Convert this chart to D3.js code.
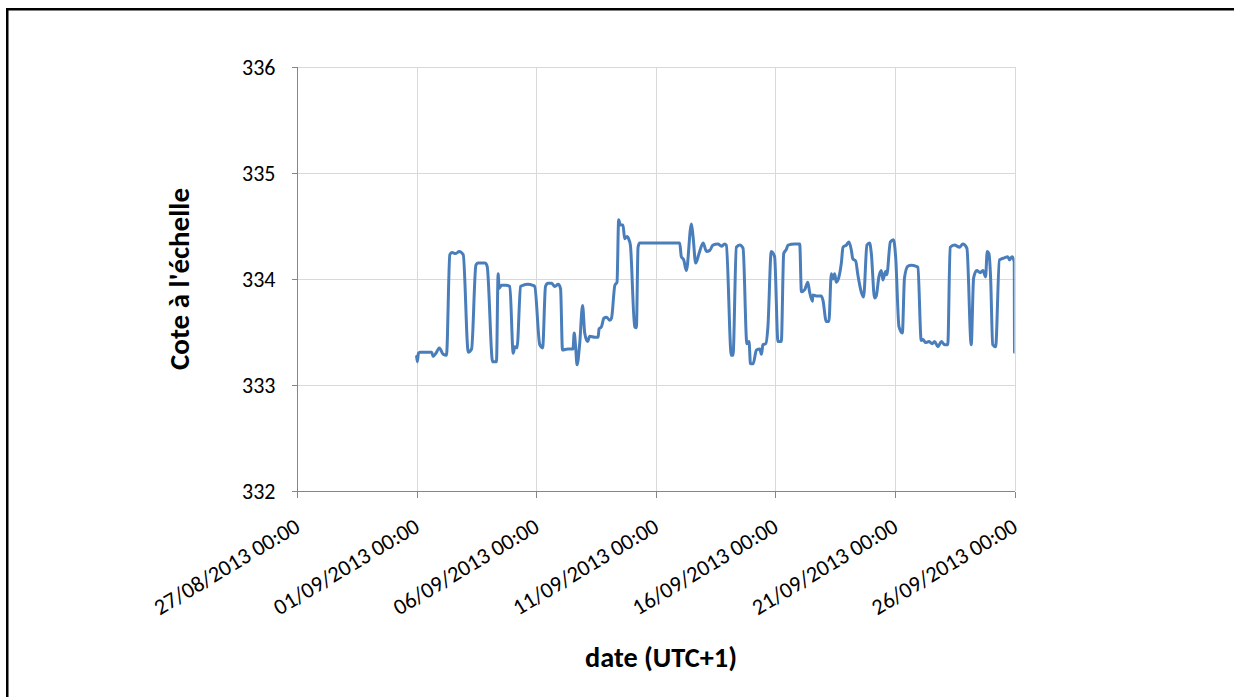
<!DOCTYPE html>
<html>
<head>
<meta charset="utf-8">
<script src="https://cdn.jsdelivr.net/npm/d3@7"></script>
<style>
  html, body { margin: 0; padding: 0; background: #fff; }
  svg { display: block; }
  text { font-family: Carlito, Calibri, Lato, "Open Sans", sans-serif; fill: #000; }
</style>
</head>
<body>
<svg id="chart" width="1234" height="697"></svg>
<script>
// ---- data ----
// Start of data series: 01/09/2013 00:00 (UTC+1); offsets are in days
const seriesStart = "2013-09-01T00:00:00Z";
const dayOffsets = [
  0.00, 0.03, 0.08, 0.14, 0.35, 0.63, 0.69, 0.81, 0.95, 1.11, 1.25, 1.39, 1.48, 1.64, 1.78, 1.95,
  2.16, 2.30, 2.48, 2.56, 2.86, 2.95, 3.18, 3.34, 3.41, 3.45, 3.55, 3.73, 3.90, 4.04, 4.11, 4.20,
  4.35, 4.44, 4.65, 4.86, 4.94, 5.15, 5.27, 5.39, 5.49, 5.64, 5.78, 5.92, 6.02, 6.10, 6.32, 6.54,
  6.59, 6.65, 6.71, 6.82, 6.94, 7.03, 7.15, 7.24, 7.45, 7.59, 7.63, 7.73, 7.83, 7.94, 8.08, 8.15,
  8.29, 8.38, 8.45, 8.52, 8.63, 8.70, 8.80, 8.88, 8.94, 9.12, 9.19, 9.26, 9.33, 9.75, 10.38, 10.58,
  11.00, 11.07, 11.17, 11.28, 11.49, 11.56, 11.67, 11.81, 11.98, 12.12, 12.26, 12.39, 12.60, 12.75, 12.88, 12.95,
  13.16, 13.23, 13.37, 13.51, 13.65, 13.81, 13.90, 13.96, 14.07, 14.21, 14.35, 14.42, 14.48, 14.60, 14.69, 14.83,
  14.97, 15.11, 15.25, 15.35, 15.46, 15.53, 15.81, 16.02, 16.09, 16.23, 16.36, 16.43, 16.55, 16.57, 16.71, 16.92,
  16.99, 17.13, 17.24, 17.34, 17.41, 17.48, 17.55, 17.66, 17.76, 17.83, 17.97, 18.08, 18.18, 18.24, 18.36, 18.45,
  18.59, 18.69, 18.83, 18.94, 19.01, 19.15, 19.22, 19.33, 19.43, 19.50, 19.61, 19.66, 19.81, 19.94, 20.03, 20.17,
  20.31, 20.40, 20.54, 20.68, 20.89, 20.96, 21.10, 21.17, 21.28, 21.42, 21.56, 21.66, 21.80, 21.94, 22.08, 22.21,
  22.31, 22.49, 22.70, 22.84, 23.01, 23.19, 23.29, 23.42, 23.57, 23.68, 23.79, 23.86, 23.93, 24.00, 24.09, 24.21,
  24.37, 24.58, 24.72, 24.79, 24.90, 24.99, 25.00
];
const cote = [
  333.27, 333.22, 333.30, 333.31, 333.31, 333.31, 333.27, 333.30, 333.35, 333.29, 333.28, 334.23, 334.25, 334.24, 334.26, 334.23,
  333.31, 333.34, 334.13, 334.15, 334.15, 334.12, 333.22, 333.22, 334.05, 333.91, 333.94, 333.94, 333.93, 333.30, 333.36, 333.35,
  333.93, 333.94, 333.95, 333.94, 333.93, 333.38, 333.35, 333.93, 333.96, 333.96, 333.93, 333.95, 333.91, 333.33, 333.34, 333.34,
  333.49, 333.36, 333.19, 333.39, 333.75, 333.49, 333.41, 333.46, 333.45, 333.45, 333.53, 333.55, 333.63, 333.64, 333.61, 333.63,
  333.94, 333.97, 334.56, 334.51, 334.51, 334.38, 334.40, 334.37, 334.32, 333.55, 333.54, 334.30, 334.34, 334.34, 334.34, 334.34,
  334.34, 334.21, 334.18, 334.08, 334.52, 334.40, 334.15, 334.24, 334.34, 334.26, 334.27, 334.32, 334.33, 334.31, 334.33, 334.32,
  333.28, 333.28, 334.30, 334.32, 334.29, 333.39, 333.41, 333.20, 333.20, 333.33, 333.34, 333.29, 333.38, 333.39, 333.55, 334.26,
  334.21, 333.41, 333.41, 334.24, 334.28, 334.32, 334.33, 334.33, 333.88, 333.90, 333.97, 333.88, 333.79, 333.85, 333.84, 333.84,
  333.80, 333.60, 333.60, 334.05, 334.00, 334.05, 333.97, 334.02, 334.15, 334.30, 334.32, 334.35, 334.27, 334.19, 334.17, 334.04,
  333.88, 333.83, 334.32, 334.34, 334.25, 333.82, 333.84, 334.02, 334.08, 333.99, 334.07, 334.04, 334.35, 334.37, 334.21, 333.55,
  333.49, 334.01, 334.12, 334.13, 334.12, 334.11, 333.42, 333.43, 333.40, 333.41, 333.39, 333.41, 333.36, 333.41, 333.38, 333.38,
  334.30, 334.32, 334.30, 334.33, 334.29, 333.38, 334.01, 334.08, 334.06, 334.08, 334.02, 334.26, 334.24, 334.02, 333.38, 333.36,
  334.18, 334.20, 334.21, 334.18, 334.21, 334.16, 333.31
];
const xTickLabels = ["27/08/2013 00:00", "01/09/2013 00:00", "06/09/2013 00:00", "11/09/2013 00:00",
                     "16/09/2013 00:00", "21/09/2013 00:00", "26/09/2013 00:00"];
const yTicks = [332, 333, 334, 335, 336];
const xTitle = "date (UTC+1)";
const yTitle = "Cote à l'échelle";

// ---- layout ----
const svg = d3.select("#chart");
const plot = { left: 297, right: 1014.5, top: 67, bottom: 491 };

const parseLabel = d3.utcParse("%d/%m/%Y %H:%M");
const xTickDates = xTickLabels.map(parseLabel);
const t0 = new Date(seriesStart);
const data = dayOffsets.map((d, i) => ({ t: new Date(t0.getTime() + d * 864e5), v: cote[i] }));

const x = d3.scaleUtc()
  .domain([xTickDates[0], xTickDates[xTickDates.length - 1]])
  .range([plot.left, plot.right]);
const y = d3.scaleLinear()
  .domain([yTicks[0], yTicks[yTicks.length - 1]])
  .range([plot.bottom, plot.top]);

// frame
svg.append("rect")
  .attr("x", 7.25).attr("y", 9.25)
  .attr("width", 1300).attr("height", 800)
  .attr("fill", "none").attr("stroke", "#000").attr("stroke-width", 2.5);

// gridlines
const grid = svg.append("g").attr("shape-rendering", "crispEdges");
grid.selectAll("line.h").data(yTicks.slice(1)).join("line")
  .attr("x1", plot.left).attr("x2", plot.right)
  .attr("y1", d => Math.round(y(d)) + 0.5).attr("y2", d => Math.round(y(d)) + 0.5)
  .attr("stroke", "#d9d9d9").attr("stroke-width", 1);
grid.selectAll("line.v").data(xTickDates.slice(1)).join("line")
  .attr("x1", d => Math.round(x(d)) + 0.5).attr("x2", d => Math.round(x(d)) + 0.5)
  .attr("y1", plot.top).attr("y2", plot.bottom)
  .attr("stroke", "#d9d9d9").attr("stroke-width", 1);

// y axis
const yAxis = svg.append("g")
  .attr("transform", `translate(${plot.left + 0.5},0)`)
  .call(d3.axisLeft(y).tickValues(yTicks).tickSize(6).tickPadding(16).tickFormat(d3.format("d")));
yAxis.selectAll("path, line").attr("stroke", "#868686").attr("shape-rendering", "crispEdges");
yAxis.select(".domain").attr("d", `M-6,${plot.top}H0V${plot.bottom}`);
yAxis.selectAll("text")
  .style("font-size", "22px")
  .attr("dy", "0.34em");

// x axis
const xAxis = svg.append("g")
  .attr("transform", `translate(0,${plot.bottom + 0.5})`)
  .call(d3.axisBottom(x).tickValues(xTickDates).tickSize(6).tickFormat((d, i) => xTickLabels[i]));
xAxis.selectAll("path, line").attr("stroke", "#868686").attr("shape-rendering", "crispEdges");
xAxis.select(".domain").attr("d", `M${plot.left},0H${plot.right}`);
xAxis.selectAll("text")
  .style("font-size", "22.5px")
  .attr("text-anchor", "end")
  .attr("y", 0).attr("dy", 0)
  .attr("transform", "translate(4,39) rotate(-31)");

// line
svg.append("defs").append("clipPath").attr("id", "clip")
  .append("rect").attr("x", plot.left).attr("y", plot.top)
  .attr("width", plot.right - plot.left).attr("height", plot.bottom - plot.top);
svg.append("path")
  .datum(data)
  .attr("clip-path", "url(#clip)")
  .attr("fill", "none")
  .attr("stroke", "#4a7ebb")
  .attr("stroke-width", 3)
  .attr("stroke-linejoin", "round")
  .attr("stroke-linecap", "round")
  .attr("d", d3.line().curve(d3.curveMonotoneX).x(d => x(d.t)).y(d => y(d.v)));

// titles
function fitText(sel, target) {
  const w = sel.node().getComputedTextLength();
  const fs = parseFloat(sel.style("font-size"));
  sel.style("font-size", (fs * target / w) + "px");
}
const xt = svg.append("text")
  .attr("x", 661).attr("y", 667)
  .attr("text-anchor", "middle")
  .style("font-weight", "bold").style("font-size", "22px")
  .text(xTitle);
fitText(xt, 152);
const yt = svg.append("text")
  .attr("transform", "translate(189,279) rotate(-90)")
  .attr("text-anchor", "middle")
  .style("font-weight", "bold").style("font-size", "22px")
  .text(yTitle);
fitText(yt, 182);
</script>
</body>
</html>
